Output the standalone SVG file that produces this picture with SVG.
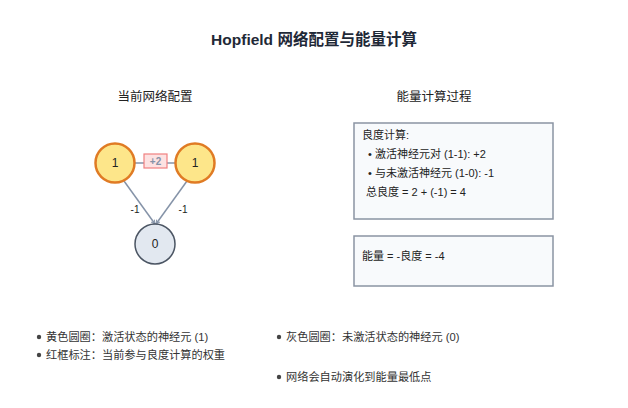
<svg xmlns="http://www.w3.org/2000/svg" width="628" height="408" viewBox="0 0 628 408">
<defs>
<style>
text{font-family:"Liberation Sans","Noto Sans CJK SC",sans-serif;fill:#222;}
.title{font-size:15.5px;font-weight:bold;fill:#1f2937;}
.sub{font-size:12.5px;}
.node{font-size:12px;}
.act{fill:#fde68a;stroke:#e07b24;stroke-width:2.5;}
.inact{fill:#e2e8f0;stroke:#4b5563;stroke-width:1.5;}
.edge{stroke:#8593a8;stroke-width:1.5;fill:none;}
.wl{font-size:10px;}
.box{fill:#f8fafc;stroke:#8a94a3;stroke-width:1.5;}
.bt{font-size:11px;}
.leg{font-size:11.2px;fill:#333;}
</style>
<marker id="arr" viewBox="0 0 8 8" refX="7" refY="4" markerWidth="3.5" markerHeight="3.5" orient="auto">
<path d="M1,1 L7,4 L1,7" fill="none" stroke="#8593a8" stroke-width="1.5"/>
</marker>
</defs>
<rect width="628" height="408" fill="#ffffff"/>
<text class="title" x="314" y="45" text-anchor="middle">Hopfield 网络配置与能量计算</text>
<text class="sub" x="155" y="101" text-anchor="middle">当前网络配置</text>
<text class="sub" x="434" y="101" text-anchor="middle">能量计算过程</text>

<g id="connectors">
<line class="edge" x1="135" y1="163" x2="175" y2="163"/>
<line class="edge" x1="124" y1="181" x2="155" y2="224" marker-end="url(#arr)"/>
<line class="edge" x1="187" y1="181" x2="156" y2="224" marker-end="url(#arr)"/>
<rect x="144" y="154" width="23" height="14" fill="#fde2e2" stroke="#f08080" stroke-width="1.2"/>
<text class="wl" x="155.5" y="165" text-anchor="middle" font-weight="bold" style="fill:#8593a8">+2</text>
<text class="wl" x="135" y="213" text-anchor="middle">-1</text>
<text class="wl" x="183" y="213" text-anchor="middle">-1</text>
</g>

<g id="n1">
<circle class="act" cx="115" cy="163" r="19.5"/>
<text class="node" x="115" y="167" text-anchor="middle">1</text>
</g>
<g id="n2">
<circle class="act" cx="195" cy="163" r="19.5"/>
<text class="node" x="195" y="167" text-anchor="middle">1</text>
</g>
<g id="n3">
<circle class="inact" cx="155" cy="244" r="20"/>
<text class="node" x="155" y="248" text-anchor="middle">0</text>
</g>

<g id="box-goodness">
<rect class="box" x="354" y="123" width="199" height="96"/>
<text class="bt" x="362" y="139">良度计算:</text>
<text class="bt" x="368" y="158">• 激活神经元对 (1-1): +2</text>
<text class="bt" x="368" y="177">• 与未激活神经元 (1-0): -1</text>
<text class="bt" x="366" y="196">总良度 = 2 + (-1) = 4</text>
</g>
<g id="box-energy">
<rect class="box" x="354" y="236" width="199" height="50"/>
<text class="bt" x="362" y="260">能量 = -良度 = -4</text>
</g>

<g id="legend">
<circle cx="39" cy="337" r="2.2" fill="#444"/>
<text class="leg" x="46" y="341">黄色圆圈：激活状态的神经元 (1)</text>
<circle cx="39" cy="355" r="2.2" fill="#444"/>
<text class="leg" x="46" y="359">红框标注：当前参与良度计算的权重</text>
<circle cx="279" cy="337" r="2.2" fill="#444"/>
<text class="leg" x="286" y="341">灰色圆圈：未激活状态的神经元 (0)</text>
<circle cx="279" cy="377" r="2.2" fill="#444"/>
<text class="leg" x="286" y="381">网络会自动演化到能量最低点</text>
</g>
</svg>
